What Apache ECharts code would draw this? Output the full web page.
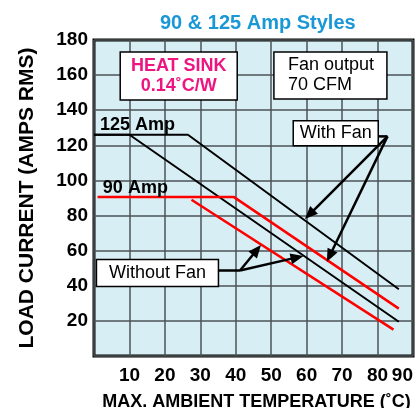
<!DOCTYPE html>
<html><head><meta charset="utf-8">
<script src="https://cdn.jsdelivr.net/npm/echarts@6/dist/echarts.min.js"></script>
<style>html,body{margin:0;padding:0;background:#fff}#c{width:417px;height:408px}</style>
</head><body><div id="c"></div>
<script>
// ---- data (temperature °C, load current A RMS) ----
const xTickLabels = ['10','20','30','40','50','60','70','80','90'];
const yTickLabels = ['20','40','60','80','100','120','140','160','180'];
const amp125WithFan    = [[0,126],[26.5,126],[86,38]];
const amp125WithoutFan = [[0,126],[10,126],[86,19.5]];
const amp90WithFan     = [[1,90.5],[39.5,90.5],[86,27]];
const amp90WithoutFan  = [[27.5,89],[84.5,15]];
// annotation anchors in data coordinates
const heatSinkBoxAt   = [23.9,159.5];
const fanOutputBoxAt  = [66.7,159.8];
const withFanBoxAt    = [68.2,126.9];
const withFanJoint    = [82.8,125.1];
const withFanTips     = [[59.5,78],[65.7,53.7]];
const withoutFanBoxAt = [17.9,47.3];
const withoutFanJoint = [41.2,48.7];
const withoutFanTips  = [[47.1,63.2],[59.1,57]];
const label125At      = [1.7,131.6];
const label90At       = [2.5,95.7];

const FONT = '"Liberation Sans", Arial, Helvetica, sans-serif';
const chart = echarts.init(document.getElementById('c'), null, {renderer:'canvas'});

function lineSeries(data, color, width){
  return {type:'line', data:data, symbol:'none', silent:true, z:5,
    lineStyle:{color:color, width:width}};
}

chart.setOption({
  animation:false,
  title:{text:'90 & 125 Amp Styles', left:155, top:8,
    textStyle:{fontFamily:FONT, fontSize:20, fontWeight:'bold', color:'#1a97d5'}},
  grid:{left:94, right:4, top:40, bottom:52, show:true, outerBoundsMode:'none', containLabel:false,
    backgroundColor:'#d8eef5', borderColor:'#000', borderWidth:3, z:0},
  xAxis:{type:'value', min:0, max:90, interval:10,
    name:'MAX. AMBIENT TEMPERATURE (˚C)', nameLocation:'middle', nameGap:37,
    nameTextStyle:{fontFamily:FONT, fontSize:18, fontWeight:'bold', color:'#000', padding:[0,0,0,6]},
    axisLine:{show:false}, axisTick:{show:false},
    splitLine:{lineStyle:{color:'#4d5357', width:1.5}},
    axisLabel:{margin:10, fontFamily:FONT, fontSize:19, fontWeight:'bold', color:'#000',
      alignMaxLabel:'right',
      formatter:v => { const i = Math.round(v/10)-1; return i>=0 ? xTickLabels[i] : ''; }}},
  yAxis:{type:'value', min:0, max:180, interval:20,
    name:'LOAD CURRENT (AMPS RMS)', nameLocation:'middle', nameGap:56,
    nameTextStyle:{fontFamily:FONT, fontSize:21, fontWeight:'bold', color:'#000'},
    axisLine:{show:false}, axisTick:{show:false},
    splitLine:{lineStyle:{color:'#4d5357', width:1.5}},
    axisLabel:{margin:6, fontFamily:FONT, fontSize:19, fontWeight:'bold', color:'#000',
      formatter:v => { const i = Math.round(v/20)-1; return i>=0 ? yTickLabels[i] : ''; }}},
  series:[
    lineSeries(amp125WithFan,'#000',2),
    lineSeries(amp125WithoutFan,'#000',2),
    lineSeries(amp90WithFan,'#ff0000',2.5),
    lineSeries(amp90WithoutFan,'#ff0000',2.5)
  ]
});

function px(p){ return chart.convertToPixel({gridIndex:0}, p); }
const g = [];
function box(at, w, h, text, style){
  const c = px(at);
  g.push({type:'rect', z:20, shape:{x:c[0]-w/2, y:c[1]-h/2, width:w, height:h},
    style:{fill:'#fff', stroke:'#000', lineWidth:1.5}});
  const tx = style.align==='left' ? c[0]-w/2+style.pad : c[0];
  g.push({type:'text', z:21, x:tx, y:c[1],
    style:Object.assign({text:text, font:style.font, fill:style.color||'#000',
      align:style.align||'center', verticalAlign:'middle', lineHeight:style.lh||20})});
  return [c[0]-w/2, c[1]-h/2, w, h];
}
function arrows(rectBox, joint, tips){
  const j = px(joint);
  const rx = rectBox[0]+rectBox[2];
  g.push({type:'line', z:22, shape:{x1:rx, y1:j[1], x2:j[0], y2:j[1]},
    style:{stroke:'#000', lineWidth:2.5}});
  tips.forEach(t => {
    const p = px(t);
    const dx = p[0]-j[0], dy = p[1]-j[1], L = Math.hypot(dx,dy);
    const ux = dx/L, uy = dy/L, hl = 13, hw = 5.5;
    const bx = p[0]-ux*hl, by = p[1]-uy*hl;
    g.push({type:'line', z:22, shape:{x1:j[0], y1:j[1], x2:bx+ux*2, y2:by+uy*2},
      style:{stroke:'#000', lineWidth:2.5}});
    g.push({type:'polygon', z:22, shape:{points:[[p[0],p[1]],[bx-uy*hw,by+ux*hw],[bx+uy*hw,by-ux*hw]]},
      style:{fill:'#000'}});
  });
}
box(heatSinkBoxAt,117,48,'HEAT SINK\n0.14˚C/W',{font:'bold 18px '+FONT, color:'#ee1580', lh:20});
box(fanOutputBoxAt,113,47,'Fan output\n70 CFM',{font:'18px '+FONT, align:'left', pad:14, lh:20});
const wf = box(withFanBoxAt,85,25,'With Fan',{font:'18px '+FONT});
const wof = box(withoutFanBoxAt,122,27,'Without Fan',{font:'18px '+FONT});
arrows(wf, withFanJoint, withFanTips);
arrows(wof, withoutFanJoint, withoutFanTips);
[[label125At,'125 Amp'],[label90At,'90 Amp']].forEach(([at,t]) => {
  const c = px(at);
  g.push({type:'text', z:21, x:c[0], y:c[1],
    style:{text:t, font:'bold 18px '+FONT, fill:'#000', align:'left', verticalAlign:'middle'}});
});
chart.setOption({graphic:{elements:g}});
</script>
</body></html>
